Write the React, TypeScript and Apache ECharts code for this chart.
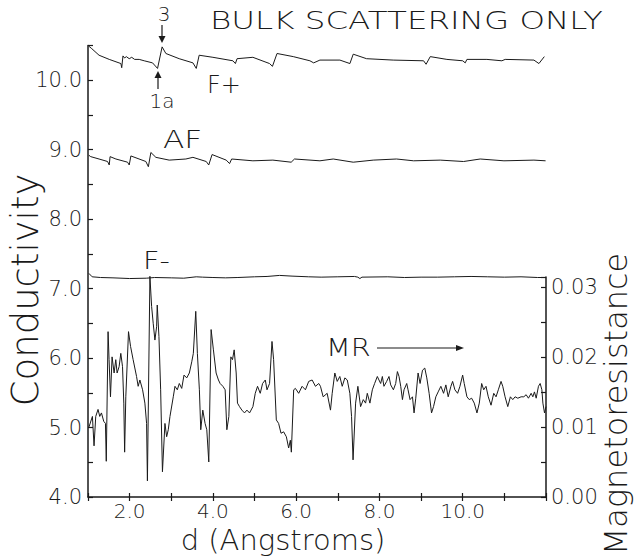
import React, { useEffect, useRef } from "react";
import * as echarts from "echarts";

// d (Angstroms) vs conductivity for three configurations, and magnetoresistance
const fPlus: number[][] = [
  [1.02, 10.49], [1.09, 10.455], [1.265, 10.36], [1.51, 10.3], [1.79, 10.24], [1.81, 10.18],
  [1.84, 10.35], [1.88, 10.32], [1.92, 10.34], [1.99, 10.31], [2.05, 10.33], [2.12, 10.3],
  [2.23, 10.3], [2.35, 10.28], [2.55, 10.25], [2.67, 10.17], [2.78, 10.48], [2.87, 10.385],
  [3.19, 10.31], [3.52, 10.25], [3.6, 10.17], [3.67, 10.36], [4.0, 10.33], [4.48, 10.28],
  [4.54, 10.24], [4.58, 10.31], [4.96, 10.33], [5.36, 10.24], [5.43, 10.2], [5.54, 10.385],
  [5.93, 10.34], [6.33, 10.28], [6.42, 10.25], [6.57, 10.29], [7.05, 10.29], [7.29, 10.24],
  [7.37, 10.375], [7.69, 10.31], [8.33, 10.29], [9.06, 10.28], [9.12, 10.23], [9.22, 10.34],
  [9.62, 10.3], [10.0, 10.28], [10.06, 10.25], [10.1, 10.3], [10.58, 10.3], [10.94, 10.28],
  [11.02, 10.3], [11.71, 10.29], [11.83, 10.24], [11.96, 10.34],
];

const af: number[][] = [
  [1.02, 8.92], [1.065, 8.9], [1.265, 8.866], [1.47, 8.83], [1.51, 8.78], [1.53, 8.9],
  [1.67, 8.866], [1.95, 8.82], [1.99, 8.78], [2.03, 8.91], [2.39, 8.83], [2.45, 8.755],
  [2.51, 8.96], [2.63, 8.89], [2.95, 8.85], [3.35, 8.866], [3.52, 8.89], [3.84, 8.83],
  [3.9, 8.78], [3.98, 8.93], [4.32, 8.85], [4.4, 8.8], [4.45, 8.866], [4.96, 8.84],
  [5.44, 8.85], [5.88, 8.82], [5.96, 8.866], [6.57, 8.84], [6.89, 8.866], [7.37, 8.82],
  [7.85, 8.85], [8.41, 8.866], [8.82, 8.84], [9.46, 8.85], [10.02, 8.83], [10.42, 8.866],
  [10.99, 8.84], [11.71, 8.85], [11.99, 8.84],
];

const fMinus: number[][] = [
  [1.02, 7.22], [1.1, 7.17], [1.3, 7.16], [1.6, 7.155], [2.0, 7.145], [2.4, 7.15], [2.6, 7.16],
  [3.0, 7.155], [3.3, 7.15], [3.6, 7.17], [3.75, 7.165], [4.0, 7.16], [4.3, 7.155], [4.6, 7.16],
  [5.0, 7.17], [5.3, 7.175], [5.6, 7.19], [5.9, 7.18], [6.3, 7.17], [6.6, 7.165], [7.0, 7.17],
  [7.4, 7.175], [7.48, 7.165], [7.53, 7.145], [7.58, 7.165], [8.2, 7.17], [8.6, 7.16],
  [9.0, 7.165], [9.4, 7.165], [9.8, 7.17], [10.2, 7.175], [10.6, 7.17], [11.0, 7.165],
  [11.4, 7.17], [11.8, 7.16], [12.0, 7.16],
];

const mrD: number[] = [
  1.024, 1.106, 1.145, 1.186, 1.241, 1.282, 1.323, 1.378, 1.419, 1.439, 1.482, 1.506, 1.54, 1.578,
  1.627, 1.667, 1.699, 1.747, 1.788, 1.829, 1.86, 1.88, 1.908, 1.973, 2.022, 2.084, 2.166, 2.205,
  2.246, 2.311, 2.366, 2.407, 2.427, 2.487, 2.528, 2.566, 2.607, 2.648, 2.663, 2.704, 2.745, 2.788,
  2.848, 2.889, 2.928, 2.969, 3.048, 3.089, 3.145, 3.193, 3.251, 3.306, 3.371, 3.434, 3.492, 3.53,
  3.588, 3.627, 3.675, 3.708, 3.757, 3.812, 3.853, 3.901, 3.957, 4.012, 4.077, 4.133, 4.173, 4.239,
  4.294, 4.335, 4.383, 4.431, 4.47, 4.511, 4.559, 4.59, 4.639, 4.696, 4.759, 4.817, 4.88, 4.961,
  5.017, 5.072, 5.137, 5.193, 5.258, 5.299, 5.361, 5.419, 5.458, 5.523, 5.578, 5.636, 5.699, 5.764,
  5.819, 5.86, 5.884, 5.94, 5.981, 6.06, 6.142, 6.222, 6.301, 6.383, 6.463, 6.542, 6.583, 6.648,
  6.744, 6.824, 6.865, 6.928, 6.986, 7.048, 7.106, 7.169, 7.227, 7.289, 7.33, 7.366, 7.427, 7.482,
  7.547, 7.612, 7.667, 7.708, 7.771, 7.829, 7.884, 7.949, 7.988, 8.029, 8.07, 8.108, 8.173, 8.229,
  8.27, 8.335, 8.39, 8.431, 8.47, 8.511, 8.552, 8.59, 8.655, 8.687, 8.735, 8.793, 8.831, 8.872,
  8.928, 8.976, 9.034, 9.089, 9.137, 9.193, 9.251, 9.299, 9.354, 9.41, 9.475, 9.54, 9.595, 9.651,
  9.716, 9.757, 9.812, 9.877, 9.933, 9.998, 10.036, 10.101, 10.157, 10.214, 10.277, 10.342, 10.398,
  10.455, 10.504, 10.559, 10.614, 10.68, 10.745, 10.8, 10.855, 10.92, 10.961, 11.017, 11.082, 11.145,
  11.202, 11.258, 11.323, 11.402, 11.467, 11.523, 11.578, 11.643, 11.684, 11.723, 11.764, 11.819,
  11.86, 11.901, 11.925, 11.964, 12.0,
];

const mrV: number[] = [
  0.01, 0.0115, 0.0073, 0.0115, 0.0125, 0.0115, 0.012, 0.0108, 0.0105, 0.0051, 0.0236, 0.0196, 0.0143, 0.02,
  0.0177, 0.0196, 0.0177, 0.0186, 0.0205, 0.0186, 0.0134, 0.0064, 0.0143, 0.0236, 0.0215, 0.0196, 0.0172, 0.0158,
  0.0167, 0.0153, 0.0134, 0.0105, 0.0023, 0.0315, 0.0272, 0.0248, 0.0224, 0.0243, 0.0274, 0.0229, 0.0153, 0.0036,
  0.0105, 0.0086, 0.0096, 0.0115, 0.0143, 0.0158, 0.0153, 0.0162, 0.0155, 0.0174, 0.017, 0.0177, 0.0193, 0.0205,
  0.0265, 0.0205, 0.0153, 0.0096, 0.0124, 0.0105, 0.0096, 0.005, 0.0239, 0.021, 0.0177, 0.0167, 0.0162, 0.0158,
  0.0153, 0.0096, 0.0115, 0.02, 0.0196, 0.021, 0.0177, 0.0134, 0.0129, 0.0124, 0.012, 0.0124, 0.012, 0.0129,
  0.0148, 0.0158, 0.0148, 0.0162, 0.0167, 0.0153, 0.0162, 0.0222, 0.0196, 0.011, 0.0105, 0.0091, 0.0093, 0.0086,
  0.007, 0.0081, 0.0064, 0.0153, 0.0155, 0.0148, 0.0158, 0.0153, 0.0165, 0.0167, 0.0158, 0.0162, 0.0158, 0.0143,
  0.0148, 0.0124, 0.0148, 0.0177, 0.0165, 0.0172, 0.0158, 0.017, 0.0167, 0.0148, 0.0115, 0.0053, 0.0134, 0.0158,
  0.0129, 0.0139, 0.0134, 0.0148, 0.0134, 0.0153, 0.0162, 0.0172, 0.0167, 0.0162, 0.0172, 0.0158, 0.0165, 0.0172,
  0.016, 0.0153, 0.0162, 0.0179, 0.0172, 0.0158, 0.0139, 0.0153, 0.0162, 0.0153, 0.0139, 0.0143, 0.012, 0.0141,
  0.0177, 0.0162, 0.0181, 0.0184, 0.017, 0.0148, 0.012, 0.0129, 0.0143, 0.015, 0.0158, 0.0148, 0.016, 0.0143,
  0.0158, 0.0165, 0.0153, 0.0148, 0.0158, 0.0174, 0.0162, 0.0143, 0.0139, 0.0141, 0.0134, 0.012, 0.0134,
  0.0162, 0.0153, 0.0158, 0.0143, 0.0131, 0.0148, 0.0143, 0.0153, 0.0165, 0.0158, 0.0143, 0.0129, 0.0143,
  0.0139, 0.0143, 0.0141, 0.0143, 0.0143, 0.0146, 0.0141, 0.0148, 0.0143, 0.015, 0.0141, 0.0158,
  0.0162, 0.0153, 0.0134, 0.012, 0.0129,
];

const condMin = 4;
const condMax = 10.5;
const mrMax = 0.0314;
const dMin = 1;
const dMax = 12;

const FONT = '"DejaVu Sans", "Liberation Sans", sans-serif';
const INK = "#1a1a1a";

export default function App() {
  const ref = useRef<HTMLDivElement>(null);
  useEffect(() => {
    if (!ref.current) return;
    const chart = echarts.init(ref.current, undefined, { renderer: "svg" });
    const mrData = mrD.map((d, i) => [d, mrV[i]]);
    const lineStyle = { color: INK, width: 1 };
    const axisLine = { show: true, lineStyle: { color: INK, width: 1.5 } };
    const lbl = { color: INK, fontFamily: FONT, fontWeight: 200 as any, fontSize: 21 };
    const arrowHead = (pts: number[][]) => ({
      type: "polygon",
      shape: { points: pts },
      style: { fill: INK },
    });
    const txt = (text: string, x: number, y: number, size: number, extra: any = {}, styleExtra: any = {}) => ({
      type: "text",
      x,
      y,
      ...extra,
      style: { text, font: `200 ${size}px ${FONT}`, fill: INK, verticalAlign: "middle", ...styleExtra },
    });
    chart.setOption({
      animation: false,
      backgroundColor: "#fff",
      grid: [
        { left: 88, right: 90, top: 45.5, bottom: 59 },
        { left: 88, right: 90, top: 277, bottom: 59 },
      ],
      xAxis: [
        {
          type: "value", gridIndex: 0, min: dMin, max: dMax, interval: 1,
          axisLine, splitLine: { show: false },
          axisTick: { show: true, inside: false, length: 4, lineStyle: { color: INK, width: 1.2 } },
          axisLabel: {
            ...lbl, fontSize: 20, lineHeight: 17, margin: 5,
            formatter: (v: number) => (v % 2 === 0 && v <= 10 ? v.toFixed(1) : ""),
          },
        },
        {
          type: "value", gridIndex: 0, min: dMin, max: dMax, interval: 1, position: "bottom",
          axisLine: { show: false }, splitLine: { show: false }, axisLabel: { show: false },
          axisTick: { show: true, inside: true, length: 4, lineStyle: { color: INK, width: 1.2 } },
        },
        {
          type: "value", gridIndex: 1, min: dMin, max: dMax, show: false,
        },
      ],
      yAxis: [
        {
          type: "value", gridIndex: 0, min: condMin, max: condMax, interval: 0.5,
          axisLine, splitLine: { show: false },
          axisTick: { show: true, inside: true, length: 5, lineStyle: { color: INK, width: 1.2 } },
          axisLabel: {
            ...lbl, margin: 6,
            formatter: (v: number) => (Math.abs(v - Math.round(v)) < 1e-6 ? v.toFixed(1) : ""),
          },
        },
        {
          type: "value", gridIndex: 1, min: 0, max: mrMax, interval: 0.005, position: "right",
          axisLine, splitLine: { show: false },
          axisTick: { show: true, inside: true, length: 5, lineStyle: { color: INK, width: 1.2 } },
          axisLabel: {
            ...lbl, margin: 5,
            formatter: (v: number) => {
              const k = Math.round(v * 1000);
              return k % 10 === 0 && Math.abs(v * 1000 - k) < 1e-6 ? v.toFixed(2) : "";
            },
          },
        },
      ],
      series: [
        { name: "F+", type: "line", xAxisIndex: 0, yAxisIndex: 0, data: fPlus, showSymbol: false, lineStyle },
        { name: "AF", type: "line", xAxisIndex: 0, yAxisIndex: 0, data: af, showSymbol: false, lineStyle },
        { name: "F-", type: "line", xAxisIndex: 0, yAxisIndex: 0, data: fMinus, showSymbol: false, lineStyle },
        { name: "MR", type: "line", xAxisIndex: 2, yAxisIndex: 1, data: mrData, showSymbol: false, clip: false, lineStyle },
      ],
      graphic: [
        txt("BULK SCATTERING ONLY", 210, 20, 25, { scaleX: 1.3 }),
        txt("3", 164, 14, 20, {}, { align: "center" }),
        { type: "line", shape: { x1: 162, y1: 25, x2: 162, y2: 38 }, style: { stroke: INK, lineWidth: 1.2 } },
        arrowHead([[158.5, 36], [165.5, 36], [162, 43]]),
        txt("1a", 162, 101, 20, {}, { align: "center" }),
        { type: "line", shape: { x1: 158, y1: 89, x2: 158, y2: 76 }, style: { stroke: INK, lineWidth: 1.2 } },
        arrowHead([[154.5, 78], [161.5, 78], [158, 71]]),
        txt("F+", 207, 85, 24),
        txt("AF", 163, 140, 25, { scaleX: 1.25 }),
        txt("F-", 143, 260, 25, { scaleX: 1.15 }),
        txt("MR", 326, 347, 25, { scaleX: 1.15 }),
        { type: "line", shape: { x1: 377, y1: 348, x2: 458, y2: 348 }, style: { stroke: INK, lineWidth: 1.2 } },
        arrowHead([[456, 345], [456, 351], [464, 348]]),
        txt("Conductivity", 25, 290, 37, { rotation: Math.PI / 2 }, { align: "center" }),
        txt("Magnetoresistance", 616, 404, 32, { rotation: Math.PI / 2 }, { align: "center" }),
        txt("d (Angstroms)", 283, 540, 29, {}, { align: "center", lineHeight: 26 }),
      ],
    });
    return () => chart.dispose();
  }, []);
  return <div ref={ref} style={{ position: "fixed", left: 0, top: 0, width: 636, height: 556, background: "#fff" }} />;
}
